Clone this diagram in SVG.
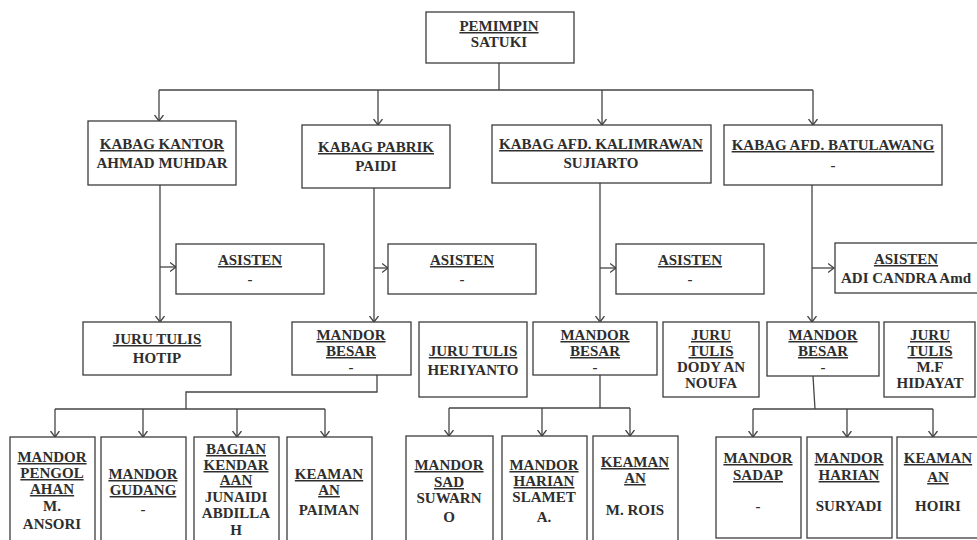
<svg xmlns="http://www.w3.org/2000/svg" width="977" height="540" viewBox="0 0 977 540">
<defs>
<style>
.box{fill:#fff;stroke:#3c3c3c;stroke-width:1.3}
.t{font-family:"Liberation Serif","Times New Roman",serif;font-weight:bold;font-size:15px;fill:#2e2e2e;text-anchor:middle}
.u{text-decoration:underline}
.c{fill:none;stroke:#444;stroke-width:1.3}
.a{marker-end:url(#ah)}
</style>
<marker id="ah" viewBox="0 0 7 10" refX="6.5" refY="5" markerWidth="7" markerHeight="10" markerUnits="userSpaceOnUse" orient="auto">
<path d="M0.5,0.5 L6.5,5 L0.5,9.5" fill="none" stroke="#444" stroke-width="1.3"/>
</marker>
</defs>
<rect width="977" height="540" fill="#fff"/>

<g id="connectors">
<path class="c" d="M499,63 V90 M159,90 H813"/>
<path class="c a" d="M159,90 V121"/>
<path class="c a" d="M378,90 V125"/>
<path class="c a" d="M602,90 V125"/>
<path class="c a" d="M813,90 V125"/>
<path class="c a" d="M160,185 V322"/>
<path class="c a" d="M160,267 H176"/>
<path class="c a" d="M374,188 V322"/>
<path class="c a" d="M374,268 H388"/>
<path class="c a" d="M600,183 V322"/>
<path class="c a" d="M600,268 H616"/>
<path class="c a" d="M812,185 V322"/>
<path class="c a" d="M812,268 H834"/>
<path class="c" d="M377,375 V392 H186 V409 M55,409 H325"/>
<path class="c a" d="M55,409 V437"/>
<path class="c a" d="M143,409 V437"/>
<path class="c a" d="M237,409 V437"/>
<path class="c a" d="M325,409 V437"/>
<path class="c" d="M600,375 V408 M449,408 H630"/>
<path class="c a" d="M449,408 V436"/>
<path class="c a" d="M542,408 V436"/>
<path class="c a" d="M630,408 V436"/>
<path class="c" d="M813,376 L815,409 M753,409 H933"/>
<path class="c a" d="M753,409 V437"/>
<path class="c a" d="M847,409 V437"/>
<path class="c a" d="M933,409 V437"/>
</g>

<g id="pemimpin">
<rect class="box" x="426" y="12" width="148" height="51"/>
<text class="t u" x="499" y="31">PEMIMPIN</text>
<text class="t" x="499" y="47">SATUKI</text>
</g>

<g id="kabag-kantor">
<rect class="box" x="88" y="121" width="148" height="64"/>
<text class="t u" x="162" y="149">KABAG KANTOR</text>
<text class="t" x="162" y="168">AHMAD MUHDAR</text>
</g>
<g id="kabag-pabrik">
<rect class="box" x="302" y="125" width="148" height="63"/>
<text class="t u" x="376" y="152">KABAG PABRIK</text>
<text class="t" x="376" y="171">PAIDI</text>
</g>
<g id="kabag-kalimrawan">
<rect class="box" x="492" y="125" width="219" height="58"/>
<text class="t u" x="601" y="149">KABAG AFD. KALIMRAWAN</text>
<text class="t" x="601" y="168">SUJIARTO</text>
</g>
<g id="kabag-batulawang">
<rect class="box" x="724" y="125" width="218" height="60"/>
<text class="t u" x="833" y="150">KABAG AFD. BATULAWANG</text>
<text class="t" x="833" y="170">-</text>
</g>

<g id="asisten-kantor">
<rect class="box" x="176" y="244" width="148" height="50"/>
<text class="t u" x="250" y="265">ASISTEN</text>
<text class="t" x="250" y="284">-</text>
</g>
<g id="asisten-pabrik">
<rect class="box" x="388" y="244" width="148" height="50"/>
<text class="t u" x="462" y="265">ASISTEN</text>
<text class="t" x="462" y="284">-</text>
</g>
<g id="asisten-kalimrawan">
<rect class="box" x="616" y="244" width="148" height="50"/>
<text class="t u" x="690" y="265">ASISTEN</text>
<text class="t" x="690" y="284">-</text>
</g>
<g id="asisten-batulawang">
<rect class="box" x="835" y="243" width="150" height="50"/>
<text class="t u" x="906" y="264">ASISTEN</text>
<text class="t" x="906" y="283">ADI CANDRA Amd</text>
</g>

<g id="juru-tulis-kantor">
<rect class="box" x="83" y="322" width="148" height="53"/>
<text class="t u" x="157" y="344">JURU TULIS</text>
<text class="t" x="157" y="363">HOTIP</text>
</g>
<g id="mandor-besar-pabrik">
<rect class="box" x="292" y="322" width="119" height="53"/>
<text class="t u" x="351" y="340">MANDOR</text>
<text class="t u" x="351" y="356">BESAR</text>
<text class="t" x="351" y="372">-</text>
</g>
<g id="juru-tulis-pabrik">
<rect class="box" x="419" y="322" width="108" height="75"/>
<text class="t u" x="473" y="356">JURU TULIS</text>
<text class="t" x="473" y="375">HERIYANTO</text>
</g>
<g id="mandor-besar-kalimrawan">
<rect class="box" x="533" y="322" width="124" height="53"/>
<text class="t u" x="595" y="340">MANDOR</text>
<text class="t u" x="595" y="356">BESAR</text>
<text class="t" x="595" y="372">-</text>
</g>
<g id="juru-tulis-kalimrawan">
<rect class="box" x="663" y="322" width="96" height="75"/>
<text class="t u" x="711" y="340">JURU</text>
<text class="t u" x="711" y="356">TULIS</text>
<text class="t" x="711" y="372">DODY AN</text>
<text class="t" x="711" y="388">NOUFA</text>
</g>
<g id="mandor-besar-batulawang">
<rect class="box" x="767" y="322" width="112" height="54"/>
<text class="t u" x="823" y="340">MANDOR</text>
<text class="t u" x="823" y="356">BESAR</text>
<text class="t" x="823" y="372">-</text>
</g>
<g id="juru-tulis-batulawang">
<rect class="box" x="884" y="322" width="91" height="75"/>
<text class="t u" x="930" y="340">JURU</text>
<text class="t u" x="930" y="356">TULIS</text>
<text class="t" x="930" y="372">M.F</text>
<text class="t" x="930" y="388">HIDAYAT</text>
</g>

<g id="mandor-pengolahan">
<rect class="box" x="10" y="437" width="85" height="110"/>
<text class="t u" x="52" y="462">MANDOR</text>
<text class="t u" x="52" y="478">PENGOL</text>
<text class="t u" x="52" y="494">AHAN</text>
<text class="t" x="52" y="511">M.</text>
<text class="t" x="52" y="529">ANSORI</text>
</g>
<g id="mandor-gudang">
<rect class="box" x="101" y="437" width="85" height="110"/>
<text class="t u" x="143" y="479">MANDOR</text>
<text class="t u" x="143" y="495">GUDANG</text>
<text class="t" x="143" y="514">-</text>
</g>
<g id="bagian-kendaraan">
<rect class="box" x="194" y="437" width="85" height="110"/>
<text class="t u" x="236" y="454">BAGIAN</text>
<text class="t u" x="236" y="470">KENDAR</text>
<text class="t u" x="236" y="485">AAN</text>
<text class="t" x="236" y="502">JUNAIDI</text>
<text class="t" x="236" y="518">ABDILLA</text>
<text class="t" x="236" y="535">H</text>
</g>
<g id="keamanan-pabrik">
<rect class="box" x="287" y="437" width="85" height="110"/>
<text class="t u" x="329" y="479">KEAMAN</text>
<text class="t u" x="329" y="495">AN</text>
<text class="t" x="329" y="515">PAIMAN</text>
</g>
<g id="mandor-sad">
<rect class="box" x="406" y="436" width="87" height="110"/>
<text class="t u" x="449" y="470">MANDOR</text>
<text class="t u" x="449" y="487">SAD</text>
<text class="t" x="449" y="503">SUWARN</text>
<text class="t" x="449" y="522">O</text>
</g>
<g id="mandor-harian-kalimrawan">
<rect class="box" x="502" y="436" width="85" height="110"/>
<text class="t u" x="544" y="470">MANDOR</text>
<text class="t u" x="544" y="486">HARIAN</text>
<text class="t" x="544" y="502">SLAMET</text>
<text class="t" x="544" y="522">A.</text>
</g>
<g id="keamanan-kalimrawan">
<rect class="box" x="593" y="436" width="85" height="110"/>
<text class="t u" x="635" y="467">KEAMAN</text>
<text class="t u" x="635" y="483">AN</text>
<text class="t" x="635" y="515">M. ROIS</text>
</g>
<g id="mandor-sadap">
<rect class="box" x="716" y="437" width="85" height="101"/>
<text class="t u" x="758" y="463">MANDOR</text>
<text class="t u" x="758" y="480">SADAP</text>
<text class="t" x="758" y="511">-</text>
</g>
<g id="mandor-harian-batulawang">
<rect class="box" x="807" y="437" width="85" height="101"/>
<text class="t u" x="849" y="463">MANDOR</text>
<text class="t u" x="849" y="480">HARIAN</text>
<text class="t" x="849" y="511">SURYADI</text>
</g>
<g id="keamanan-batulawang">
<rect class="box" x="897" y="437" width="85" height="101"/>
<text class="t u" x="938" y="463">KEAMAN</text>
<text class="t u" x="938" y="482">AN</text>
<text class="t" x="938" y="511">HOIRI</text>
</g>
</svg>
